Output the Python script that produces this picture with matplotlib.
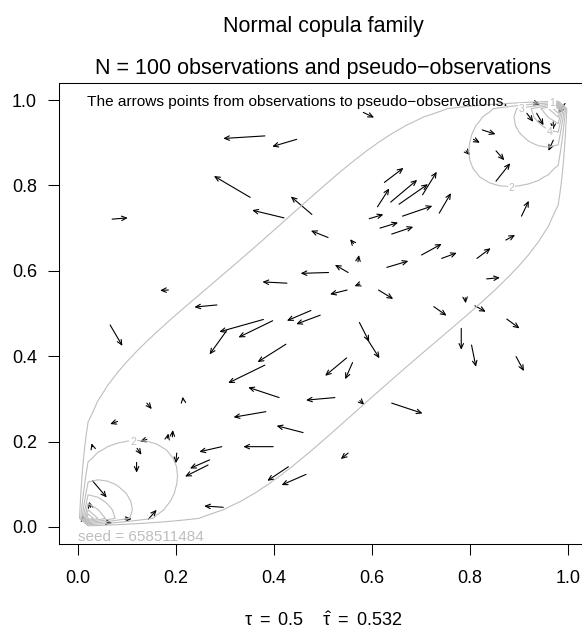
import numpy as np
import matplotlib
matplotlib.use("Agg")
import matplotlib.pyplot as plt
from matplotlib.patches import FancyArrowPatch
from statistics import NormalDist

plt.rcParams.update({"font.family": "Liberation Sans", "mathtext.fontset": "custom",
                     "mathtext.rm": "Liberation Sans", "mathtext.it": "Liberation Sans"})
GREY = "#BEBEBE"

TAU, TAU_HAT, N_OBS, SEED = 0.5, 0.532, 100, 658511484
LEVELS = [1, 2, 3, 4, 5, 6, 7, 8, 9, 10]
TICKS = [0.0, 0.2, 0.4, 0.6, 0.8, 1.0]
TICK_LABELS = ["0.0", "0.2", "0.4", "0.6", "0.8", "1.0"]
# contour labels that are visible in the picture
LAB_LEVEL = [1, 2, 2, 3, 4]
LAB_U = [0.967, 0.112, 0.885, 0.906, 0.963]
LAB_V = [0.993, 0.200, 0.794, 0.980, 0.925]

# observations (tail of each arrow)
obs_u = [0.381, 0.446, 0.351, 0.069, 0.420, 0.477, 0.510, 0.562, 0.582, 0.929,
         0.994, 0.916, 0.936, 0.970, 0.970, 0.825, 0.807, 0.853, 0.792, 0.853,
         0.625, 0.611, 0.638, 0.655, 0.703, 0.737, 0.662, 0.594, 0.616, 0.640,
         0.905, 0.701, 0.742, 0.814, 0.873, 0.571, 0.184, 0.283, 0.065, 0.378,
         0.303, 0.397, 0.475, 0.494, 0.424, 0.381, 0.410, 0.524, 0.140, 0.214,
         0.080, 0.383, 0.459, 0.029, 0.140, 0.182, 0.192, 0.120, 0.119, 0.201,
         0.293, 0.398, 0.268, 0.265, 0.429, 0.465, 0.296, 0.029, 0.143, 0.095,
         0.551, 0.630, 0.511, 0.426, 0.575, 0.549, 0.613, 0.834, 0.726, 0.790,
         0.810, 0.875, 0.574, 0.589, 0.548, 0.560, 0.782, 0.803, 0.894, 0.575,
         0.640, 0.551, 0.025, 0.010, 0.058]
obs_v = [0.916, 0.908, 0.772, 0.721, 0.724, 0.732, 0.678, 0.664, 0.971, 0.994,
         0.992, 0.969, 0.969, 0.949, 0.906, 0.930, 0.908, 0.881, 0.881, 0.810,
         0.807, 0.750, 0.761, 0.756, 0.778, 0.735, 0.728, 0.722, 0.700, 0.686,
         0.728, 0.637, 0.629, 0.629, 0.672, 0.621, 0.555, 0.520, 0.473, 0.486,
         0.460, 0.483, 0.507, 0.496, 0.428, 0.379, 0.303, 0.303, 0.290, 0.297,
         0.247, 0.270, 0.221, 0.188, 0.205, 0.208, 0.211, 0.184, 0.151, 0.173,
         0.188, 0.188, 0.157, 0.145, 0.141, 0.123, 0.046, 0.108, 0.018, 0.018,
         0.596, 0.608, 0.596, 0.571, 0.569, 0.555, 0.555, 0.581, 0.516, 0.537,
         0.518, 0.487, 0.479, 0.442, 0.396, 0.385, 0.465, 0.426, 0.399, 0.296,
         0.290, 0.173, 0.046, 0.019, 0.011]
# pseudo-observations (head of each arrow)
pobs_u = [0.296, 0.396, 0.277, 0.101, 0.355, 0.434, 0.475, 0.555, 0.604, 0.943,
          0.980, 0.929, 0.950, 0.969, 0.960, 0.852, 0.820, 0.870, 0.800, 0.882,
          0.664, 0.635, 0.692, 0.714, 0.732, 0.761, 0.723, 0.623, 0.653, 0.684,
          0.920, 0.742, 0.773, 0.842, 0.892, 0.573, 0.167, 0.237, 0.090, 0.288,
          0.268, 0.327, 0.426, 0.445, 0.366, 0.306, 0.347, 0.465, 0.150, 0.213,
          0.065, 0.317, 0.405, 0.027, 0.126, 0.184, 0.193, 0.129, 0.119, 0.199,
          0.247, 0.337, 0.228, 0.218, 0.386, 0.415, 0.257, 0.058, 0.160, 0.109,
          0.524, 0.674, 0.454, 0.376, 0.564, 0.514, 0.643, 0.861, 0.752, 0.791,
          0.832, 0.901, 0.594, 0.615, 0.504, 0.545, 0.782, 0.812, 0.910, 0.584,
          0.703, 0.536, 0.022, 0.009, 0.069]
pobs_v = [0.910, 0.891, 0.822, 0.724, 0.742, 0.774, 0.694, 0.674, 0.959, 0.990,
          0.969, 0.949, 0.941, 0.930, 0.881, 0.920, 0.900, 0.859, 0.871, 0.852,
          0.841, 0.793, 0.813, 0.803, 0.832, 0.782, 0.752, 0.732, 0.713, 0.703,
          0.764, 0.663, 0.642, 0.653, 0.684, 0.637, 0.554, 0.515, 0.424, 0.457,
          0.404, 0.444, 0.483, 0.475, 0.386, 0.337, 0.327, 0.297, 0.276, 0.305,
          0.241, 0.257, 0.237, 0.196, 0.200, 0.219, 0.227, 0.169, 0.127, 0.149,
          0.176, 0.188, 0.137, 0.118, 0.108, 0.098, 0.049, 0.069, 0.040, 0.019,
          0.614, 0.623, 0.594, 0.574, 0.564, 0.545, 0.534, 0.584, 0.495, 0.524,
          0.504, 0.465, 0.434, 0.395, 0.354, 0.346, 0.415, 0.375, 0.365, 0.286,
          0.266, 0.159, 0.059, 0.028, 0.009]

# normal copula density on a 0..1 grid, zero on the border
rho = np.sin(np.pi * TAU / 2)
grid = np.linspace(0.0, 1.0, 51)
q = np.array([NormalDist().inv_cdf(g) for g in grid[1:-1]])
X, Y = np.meshgrid(q, q)
inner = np.exp(-(rho**2 * (X**2 + Y**2) - 2 * rho * X * Y) / (2 * (1 - rho**2))) / np.sqrt(1 - rho**2)
dens = np.zeros((len(grid), len(grid)))
dens[1:-1, 1:-1] = inner

fig = plt.figure(figsize=(5.82, 6.31), dpi=100)
ax = fig.add_axes([0.1009, 0.1379, 0.9087, 0.7306])
ax.set_xlim(-0.04, 1.04); ax.set_ylim(-0.04, 1.04)

ax.contour(grid, grid, dens, levels=LEVELS, colors=GREY, linewidths=0.8)
for lev, lu, lv in zip(LAB_LEVEL, LAB_U, LAB_V):
    ax.text(lu, lv, str(lev), fontsize=7.5, color=GREY, ha="center", va="center",
            bbox=dict(facecolor="white", edgecolor="none", pad=0.5))

for x0, y0, x1, y1 in zip(obs_u, obs_v, pobs_u, pobs_v):
    ax.add_patch(FancyArrowPatch((x0, y0), (x1, y1), arrowstyle="->,head_length=3.5,head_width=1.6",
                                 mutation_scale=1, lw=0.8, color="black", shrinkA=0, shrinkB=0))

ax.text(0.018, 0.986, "The arrows points from observations to pseudo\u2212observations.",
        fontsize=11.1, va="baseline", ha="left")
ax.text(0.0, -0.023, f"seed = {SEED}", fontsize=11, color=GREY, va="center", ha="left")

ax.set_xticks(TICKS); ax.set_xticklabels(TICK_LABELS)
ax.set_yticks(TICKS); ax.set_yticklabels(TICK_LABELS)
ax.tick_params(axis="both", labelsize=13, length=7.7, width=0.75)
ax.tick_params(axis="x", pad=11)
ax.tick_params(axis="y", pad=8)
for s in ax.spines.values():
    s.set_linewidth(0.75)

fig.text(0.555, 0.950, "Normal copula family", fontsize=15.5, ha="center", va="baseline")
fig.text(0.555, 0.883, f"N = {N_OBS} observations and pseudo\u2212observations",
         fontsize=15.5, ha="center", va="baseline")
fig.text(0.555, 0.016, r"$\mathrm{\tau\ =\ %s\quad\ \hat{\tau}\ =\ %s}$" % (TAU, TAU_HAT),
         fontsize=13, ha="center", va="center")

fig.savefig("out.png", dpi=100, facecolor="white")
